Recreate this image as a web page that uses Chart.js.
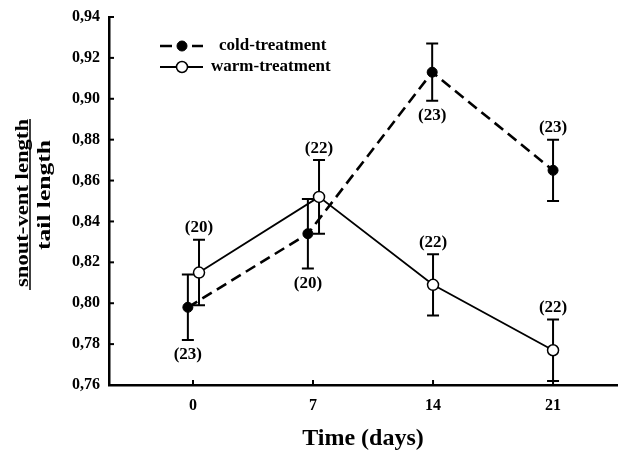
<!DOCTYPE html>
<html>
<head>
<meta charset="utf-8">
<script src="https://cdn.jsdelivr.net/npm/chart.js@4/dist/chart.umd.min.js"></script>
<style>
  html, body { margin: 0; padding: 0; background: #fff; }
  #wrap { width: 618px; height: 454px; }
</style>
</head>
<body>
<div id="wrap"><canvas id="c" width="618" height="454"></canvas></div>
<script>
// ---- data ----
const dayTicks = [0, 7, 14, 21];
const coldDays = [-0.3, 6.7, 13.95, 21];
const coldMean = [0.798, 0.834, 0.913, 0.865];
const coldErr  = [0.016, 0.017, 0.014, 0.015];
const coldN    = [23, 20, 23, 23];
const warmDays = [0.35, 7.35, 14, 21];
const warmMean = [0.815, 0.852, 0.809, 0.777];
const warmErr  = [0.016, 0.018, 0.015, 0.015];
const warmN    = [20, 22, 22, 22];
const seriesNames = ['cold-treatment', 'warm-treatment'];
const yTitleTop = 'snout-vent length';
const yTitleBottom = 'tail length';
const xTitle = 'Time (days)';

const SERIF = '"Liberation Serif", "Times New Roman", serif';

function pts(xs, ys) { return xs.map((x, i) => ({ x: x, y: ys[i] })); }

const errorBarPlugin = {
  id: 'errorBars',
  beforeDatasetsDraw(chart) {
    const ctx = chart.ctx;
    const xs = chart.scales.x, ys = chart.scales.y;
    ctx.save();
    ctx.strokeStyle = '#000';
    ctx.lineWidth = 2;
    chart.data.datasets.forEach(ds => {
      ds.data.forEach((p, i) => {
        const e = ds.errors[i];
        const px = xs.getPixelForValue(p.x);
        const top = ys.getPixelForValue(p.y + e);
        const bot = ys.getPixelForValue(p.y - e);
        ctx.beginPath();
        ctx.moveTo(px, top); ctx.lineTo(px, bot);
        ctx.moveTo(px - 6, top); ctx.lineTo(px + 6, top);
        ctx.moveTo(px - 6, bot); ctx.lineTo(px + 6, bot);
        ctx.stroke();
      });
    });
    ctx.restore();
  },
  afterDatasetsDraw(chart, args, opts) {
    const ctx = chart.ctx;
    const xs = chart.scales.x, ys = chart.scales.y;
    ctx.save();
    ctx.fillStyle = '#000';
    ctx.font = 'bold 17px ' + SERIF;
    ctx.textAlign = 'center';
    ctx.textBaseline = 'middle';
    chart.data.datasets.forEach((ds, di) => {
      const sides = opts.sides[di];
      ds.data.forEach((p, i) => {
        const e = ds.errors[i];
        const px = xs.getPixelForValue(p.x);
        let py;
        if (sides[i] === 'above') py = ys.getPixelForValue(p.y + e) - 12;
        else py = ys.getPixelForValue(p.y - e) + 15;
        ctx.fillText('(' + ds.counts[i] + ')', px, py);
      });
    });
    ctx.restore();
  }
};

function drawStretched(ctx, text, x, cy, targetLen) {
  ctx.save();
  ctx.translate(x, cy);
  ctx.rotate(-Math.PI / 2);
  const w = ctx.measureText(text).width;
  ctx.scale(targetLen / w, 1);
  ctx.textAlign = 'center';
  ctx.textBaseline = 'alphabetic';
  ctx.fillText(text, 0, 0);
  ctx.restore();
}

const decorPlugin = {
  id: 'decor',
  afterDraw(chart) {
    const ctx = chart.ctx;
    const area = chart.chartArea;
    const xs = chart.scales.x, ys = chart.scales.y;
    ctx.save();
    ctx.strokeStyle = '#000';
    ctx.lineWidth = 2;
    // inward tick marks
    ys.ticks.forEach(t => {
      const py = ys.getPixelForValue(t.value);
      ctx.beginPath(); ctx.moveTo(area.left, py); ctx.lineTo(area.left + 5, py); ctx.stroke();
    });
    xs.ticks.forEach(t => {
      const px = xs.getPixelForValue(t.value);
      ctx.beginPath(); ctx.moveTo(px, area.bottom); ctx.lineTo(px, area.bottom - 5); ctx.stroke();
    });
    // y-axis title as a fraction
    ctx.fillStyle = '#000';
    ctx.font = 'bold 18px ' + SERIF;
    drawStretched(ctx, yTitleTop, 28, 203, 168);
    drawStretched(ctx, yTitleBottom, 50, 195, 110);
    ctx.lineWidth = 1.5;
    ctx.beginPath();
    ctx.moveTo(30, 119); ctx.lineTo(30, 290);
    ctx.stroke();
    // legend
    const items = [
      { ds: chart.data.datasets[0], y: 46, tx: 219 },
      { ds: chart.data.datasets[1], y: 67, tx: 211 }
    ];
    items.forEach(it => {
      const ds = it.ds;
      ctx.save();
      ctx.strokeStyle = '#000';
      ctx.lineWidth = ds.borderWidth;
      ctx.beginPath();
      if (ds.borderDash && ds.borderDash.length) {
        ctx.moveTo(160, it.y); ctx.lineTo(172, it.y);
        ctx.moveTo(192, it.y); ctx.lineTo(203, it.y);
      } else {
        ctx.moveTo(160, it.y); ctx.lineTo(203, it.y);
      }
      ctx.stroke();
      ctx.beginPath();
      ctx.arc(182, it.y, ds.pointRadius, 0, Math.PI * 2);
      ctx.fillStyle = ds.pointBackgroundColor;
      ctx.fill();
      ctx.lineWidth = ds.pointBorderWidth;
      ctx.stroke();
      ctx.restore();
      ctx.fillStyle = '#000';
      ctx.font = 'bold 17px ' + SERIF;
      ctx.textAlign = 'left';
      ctx.textBaseline = 'middle';
      ctx.fillText(ds.label, it.tx, it.y);
    });
    ctx.restore();
  }
};

function zeroPad(scale) {
  scale.paddingLeft = 0; scale.paddingRight = 0;
  scale.paddingTop = 0; scale.paddingBottom = 0;
}

new Chart(document.getElementById('c'), {
  type: 'line',
  data: {
    datasets: [
      {
        label: seriesNames[0],
        data: pts(coldDays, coldMean),
        errors: coldErr,
        counts: coldN,
        borderColor: '#000',
        borderWidth: 2.6,
        borderDash: [11, 6],
        pointRadius: 5,
        pointBackgroundColor: '#000',
        pointBorderColor: '#000',
        pointBorderWidth: 1,
        fill: false,
        tension: 0,
        clip: false
      },
      {
        label: seriesNames[1],
        data: pts(warmDays, warmMean),
        errors: warmErr,
        counts: warmN,
        borderColor: '#000',
        borderWidth: 1.8,
        pointRadius: 5.5,
        pointBackgroundColor: '#fff',
        pointBorderColor: '#000',
        pointBorderWidth: 1.5,
        fill: false,
        tension: 0,
        clip: false
      }
    ]
  },
  options: {
    responsive: false,
    animation: false,
    events: [],
    layout: { autoPadding: false, padding: { top: 17, right: 1, left: 0, bottom: 0 } },
    plugins: {
      legend: { display: false },
      tooltip: { enabled: false },
      errorBars: { sides: [['below', 'below', 'below', 'above'], ['above', 'above', 'above', 'above']] }
    },
    scales: {
      x: {
        type: 'linear',
        min: -4.9,
        max: 24.73,
        grid: { display: false, drawTicks: false },
        border: { display: true, color: '#000', width: 2.5 },
        afterBuildTicks(scale) { scale.ticks = dayTicks.map(v => ({ value: v })); },
        afterFit(scale) { scale.height = 69; zeroPad(scale); },
        ticks: {
          padding: 11,
          color: '#000',
          font: { family: SERIF, size: 16, weight: 'bold' },
          maxRotation: 0,
          autoSkip: false
        },
        title: {
          display: true,
          text: xTitle,
          color: '#000',
          font: { family: SERIF, size: 24, weight: 'bold' },
          padding: { top: 0, bottom: 1 }
        }
      },
      y: {
        min: 0.76,
        max: 0.94,
        grid: { display: false, drawTicks: false },
        border: { display: true, color: '#000', width: 2.5 },
        afterFit(scale) { scale.width = 109; zeroPad(scale); },
        ticks: {
          stepSize: 0.02,
          padding: 9,
          color: '#000',
          font: { family: SERIF, size: 16, weight: 'bold' },
          callback: v => v.toFixed(2).replace('.', ',')
        }
      }
    }
  },
  plugins: [errorBarPlugin, decorPlugin]
});
</script>
</body>
</html>
